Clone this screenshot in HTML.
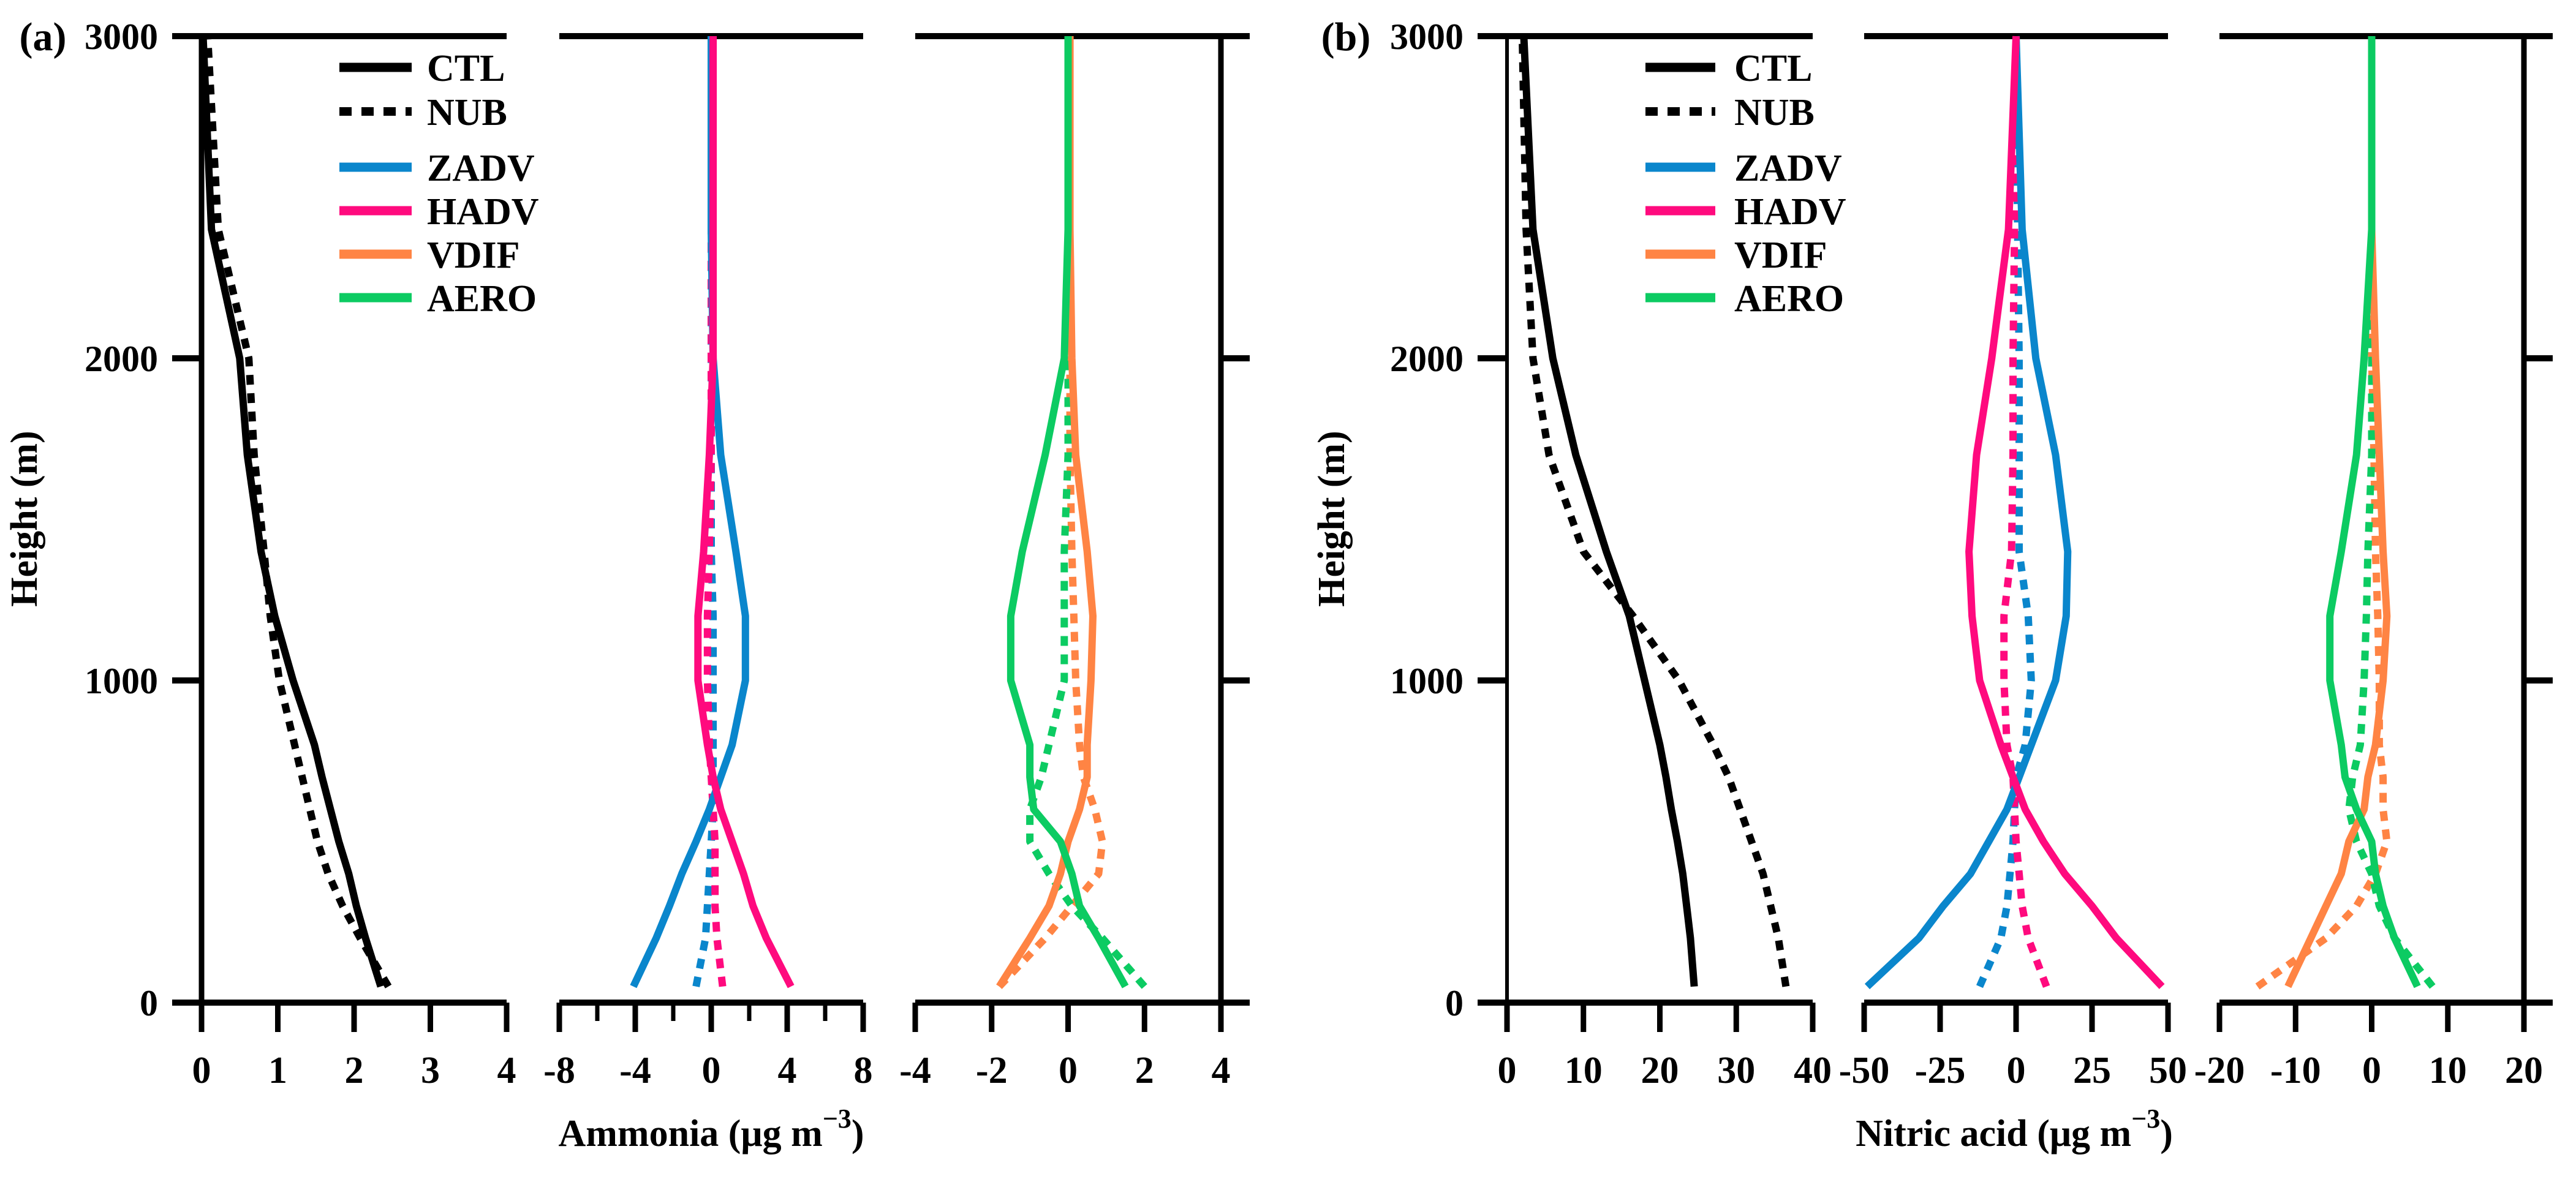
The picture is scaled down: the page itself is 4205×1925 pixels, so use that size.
<!DOCTYPE html>
<html><head><meta charset="utf-8"><style>
html,body{margin:0;padding:0;background:#fff}
svg{display:block}
text{font-family:"Liberation Serif",serif;font-weight:bold;fill:#000}
</style></head><body>
<svg id="chart" width="4205" height="1925" viewBox="0 0 4205 1925" xmlns="http://www.w3.org/2000/svg"></svg>
<script>
const H = [50,200,300,400,500,600,700,800,1000,1200,1400,1700,2000,2400,3000];
const yTicks = [0,1000,2000,3000];
const a_ctl = [2.35,2.15,2.03,1.93,1.8,1.69,1.58,1.48,1.2,0.96,0.78,0.6,0.5,0.13,0.02];
const a_nub = [2.45,2.08,1.85,1.66,1.52,1.42,1.32,1.22,1.02,0.9,0.82,0.69,0.62,0.22,0.08];
const a_zadv = [-4.1,-2.9,-2.2,-1.55,-0.8,-0.1,0.5,1.1,1.8,1.8,1.3,0.5,0.1,0,0];
const a_hadv = [4.2,2.9,2.2,1.7,1.1,0.5,0.1,-0.2,-0.7,-0.7,-0.4,-0.1,0.1,0.1,0.1];
const a_zadv_n = [-0.8,-0.3,-0.2,-0.1,0,0.1,0.1,0.1,0.1,0.1,0,0,0,0,0];
const a_hadv_n = [0.6,0.3,0.2,0.2,0.2,0.1,0,-0.1,-0.2,-0.2,-0.1,0,0,0,0];
const a_aero = [1.5,0.8,0.3,0.1,-0.2,-0.9,-1.0,-1.0,-1.5,-1.5,-1.2,-0.6,-0.1,0,0];
const a_vdif = [-1.8,-1.0,-0.5,-0.2,0,0.3,0.5,0.5,0.6,0.65,0.5,0.2,0.1,0.05,0.05];
const a_aero_n = [2.0,0.9,0.1,-0.5,-1.0,-1.0,-0.7,-0.5,-0.1,-0.1,-0.1,0,0,0,0];
const a_vdif_n = [-1.8,-0.6,0.1,0.8,0.9,0.7,0.4,0.3,0.2,0.15,0.1,0.05,0.05,0,0];
const b_ctl = [24.5,24,23.5,23,22.3,21.5,20.8,20,18,16,13,9,6,3.4,2.2];
const b_nub = [36.5,35.5,34.5,33.5,32,30.5,29,27,22.5,16.5,10,5.5,3.4,2.5,2];
const b_zadv = [-49,-32,-24,-15,-9,-3,1,5,13,16.5,17,13,6.5,2,0];
const b_hadv = [48,33,25,16,9,3,-1,-5,-12,-14.5,-15.5,-13,-8,-2.5,0];
const b_zadv_n = [-12,-5,-3,-2,-1,-0.5,0,3,5,4,1,1,1,0.5,0];
const b_hadv_n = [10,4,2,1,0,-0.5,-1,-3,-4,-4,-1.5,-1,-1,-0.5,0];
const b_aero = [6,3,1.5,0.5,0,-2,-3.5,-4,-5.5,-5.5,-4,-2,-1,0,0];
const b_vdif = [-11,-8,-6,-4,-3,-1,-0.5,0.5,1.5,2,1.5,1,0.5,0,0];
const b_aero_n = [8,3,1,0,-2,-3,-2.5,-1.5,-1,-0.7,-0.5,0,0,0,0];
const b_vdif_n = [-15,-6,-2,0.5,2,1.5,1.5,1,1,0.8,0.5,0.3,0,0,0];
const ticksA1 = [0,1,2,3,4], ticksA2 = [-8,-4,0,4,8], ticksA3 = [-4,-2,0,2,4];
const ticksB1 = [0,10,20,30,40], ticksB2 = [-50,-25,0,25,50], ticksB3 = [-20,-10,0,10,20];

const C = {k:'#000',z:'#0a86cc',h:'#ff0a7e',v:'#ff8444',a:'#0ccb62'};
const svg = document.getElementById('chart');
const NS = 'http://www.w3.org/2000/svg';
function el(t, at, parent){const e=document.createElementNS(NS,t);for(const k in at)e.setAttribute(k,at[k]);(parent||svg).appendChild(e);return e;}
const Y0 = 1637, Y3 = 59;
function yS(h){return Y0 - h*(Y0-Y3)/3000;}

function subplot(name, x0, x1, ticks, series, opts){
  const g = el('g',{});
  
  
  const dmin = ticks[0], dmax = ticks[ticks.length-1];
  const xS = v => x0 + (v-dmin)/(dmax-dmin)*(x1-x0);
  const left = opts.left ? x0-48 : x0;
  const right = opts.right ? x1+47 : x1;
  const top = el('line',{x1:left,y1:Y3,x2:right,y2:Y3,stroke:'#000','stroke-width':10},g);
  
  
  const bot = el('line',{x1:left,y1:Y0,x2:right,y2:Y0,stroke:'#000','stroke-width':10},g);
  
  
  if(opts.left){
    el('line',{x1:x0,y1:Y3-5,x2:x0,y2:Y0+5,stroke:'#000','stroke-width':opts.thinLeft?6:9},g);
    yTicks.forEach(t=>{el('line',{x1:x0-48,y1:yS(t),x2:x0,y2:yS(t),stroke:'#000','stroke-width':10},g);
      const tl=el('text',{x:opts.ylabX,y:yS(t)+21,'font-size':60,'text-anchor':'end'},g);tl.textContent=t;
      
      
    });
  }
  if(opts.right){
    el('line',{x1:x1,y1:Y3-5,x2:x1,y2:Y0+5,stroke:'#000','stroke-width':9},g);
    yTicks.slice(1,3).forEach(t=>el('line',{x1:x1,y1:yS(t),x2:x1+47,y2:yS(t),stroke:'#000','stroke-width':10},g));
  }
  ticks.forEach(t=>{
    el('line',{x1:xS(t),y1:Y0,x2:xS(t),y2:Y0+48,stroke:'#000','stroke-width':9},g);
    const tl=el('text',{x:xS(t),y:1768,'font-size':62,'text-anchor':'middle'},g);tl.textContent=t;
    
    
  });
  if(opts.minor){for(let i=0;i<ticks.length-1;i++){const m=(ticks[i]+ticks[i+1])/2;el('line',{x1:xS(m),y1:Y0,x2:xS(m),y2:Y0+30,stroke:'#000','stroke-width':7},g);}}
  series.forEach(s=>{
    const d = s.v.map((v,i)=>(i?'L':'M')+xS(v).toFixed(1)+' '+yS(H[i]).toFixed(1)).join(' ');
    const p = el('path',{d:d,fill:'none',stroke:s.c,'stroke-width':12,'stroke-linejoin':'round'},g);
    if(s.dash) p.setAttribute('stroke-dasharray','16 14');
    
    
  });
}

subplot('panel-a-total', 329, 827, ticksA1, [{v:a_ctl,c:C.k,n:'ctl-line'},{v:a_nub,c:C.k,dash:1,n:'nub-line'}], {left:true, ylabX:258});
subplot('panel-a-advection', 913, 1409, ticksA2, [{v:a_zadv_n,c:C.z,dash:1,n:'zadv-nub-line'},{v:a_hadv_n,c:C.h,dash:1,n:'hadv-nub-line'},{v:a_zadv,c:C.z,n:'zadv-line'},{v:a_hadv,c:C.h,n:'hadv-line'}], {minor:true});
subplot('panel-a-process', 1494, 1993, ticksA3, [{v:a_vdif_n,c:C.v,dash:1,n:'vdif-nub-line'},{v:a_aero_n,c:C.a,dash:1,n:'aero-nub-line'},{v:a_vdif,c:C.v,n:'vdif-line'},{v:a_aero,c:C.a,n:'aero-line'}], {right:true});
subplot('panel-b-total', 2460, 2959, ticksB1, [{v:b_ctl,c:C.k,n:'ctl-line'},{v:b_nub,c:C.k,dash:1,n:'nub-line'}], {left:true, ylabX:2389, thinLeft:true});
subplot('panel-b-advection', 3043, 3539, ticksB2, [{v:b_zadv_n,c:C.z,dash:1,n:'zadv-nub-line'},{v:b_hadv_n,c:C.h,dash:1,n:'hadv-nub-line'},{v:b_zadv,c:C.z,n:'zadv-line'},{v:b_hadv,c:C.h,n:'hadv-line'}], {});
subplot('panel-b-process', 3623, 4120, ticksB3, [{v:b_vdif_n,c:C.v,dash:1,n:'vdif-nub-line'},{v:b_aero_n,c:C.a,dash:1,n:'aero-nub-line'},{v:b_vdif,c:C.v,n:'vdif-line'},{v:b_aero,c:C.a,n:'aero-line'}], {right:true});

function legend(lx0, lx1, tx, pname){
  const items=[['CTL',C.k,0,110],['NUB',C.k,1,182],['ZADV',C.z,0,273],['HADV',C.h,0,344],['VDIF',C.v,0,415],['AERO',C.a,0,486]];
  items.forEach(it=>{
    const ln=el('line',{x1:lx0,y1:it[3],x2:lx1,y2:it[3],stroke:it[1],'stroke-width':it[2]?14:15});
    if(it[2]) ln.setAttribute('stroke-dasharray','20 16');
    
    
    const t=el('text',{x:tx,y:it[3]+22,'font-size':62});t.textContent=it[0];
    
    
  });
}
legend(554,672,697,'a');
legend(2686,2800,2831,'b');

function label(x,y,txt,name,rot,size){
  const t=el('text',{x:x,y:y,'font-size':size||62,'text-anchor':'middle'});
  if(rot) t.setAttribute('transform','rotate(-90 '+x+' '+y+')');
  t.innerHTML=txt;
  
  
}
label(70,82,'(a)','panel-a-label',0,66);
label(2197,82,'(b)','panel-b-label',0,66);
label(60,847,'Height (m)','y-axis-title-a',1,62);
label(2194,847,'Height (m)','y-axis-title-b',1,62);
label(1161,1871,'Ammonia (μg m<tspan dy="-30" font-size="44">−3</tspan><tspan dy="30">)</tspan>','x-axis-title-a',0,62);
label(3288,1871,'Nitric acid (μg m<tspan dy="-30" font-size="44">−3</tspan><tspan dy="30">)</tspan>','x-axis-title-b',0,62);
</script>
</body></html>
